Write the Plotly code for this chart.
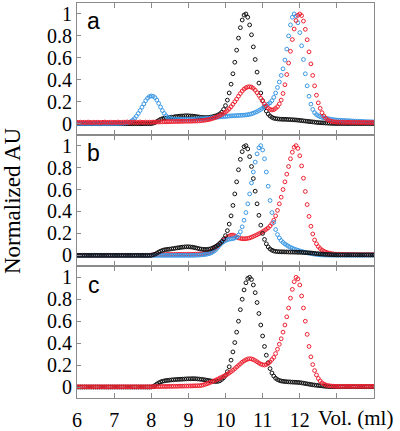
import plotly.graph_objects as go
from plotly.subplots import make_subplots

# Elution volume grid (ml), sampled every 0.05 ml from 6 to 14
VOL = [round(6 + 0.05 * i, 2) for i in range(161)]

# ---------------- panel a ----------------
BLACK_A = (
    [0.0] * 20 +
    [0.0] * 20 +
    [0.0, 0.005, 0.01, 0.02, 0.03, 0.04, 0.045, 0.05, 0.05, 0.055, 0.055, 0.06, 0.06, 0.065, 0.065, 0.068, 0.07, 0.07, 0.072, 0.072] +
    [0.072, 0.07, 0.07, 0.068, 0.065, 0.063, 0.06, 0.058, 0.057, 0.056, 0.056, 0.057, 0.06, 0.063, 0.068, 0.072, 0.08, 0.09, 0.105, 0.13] +
    [0.165, 0.215, 0.28, 0.36, 0.455, 0.56, 0.67, 0.78, 0.875, 0.945, 0.99, 1.0, 0.97, 0.9, 0.81, 0.7, 0.585, 0.47, 0.37, 0.28] +
    [0.21, 0.155, 0.115, 0.088, 0.07, 0.058, 0.05, 0.046, 0.044, 0.042, 0.041, 0.04, 0.04, 0.039, 0.038, 0.037, 0.036, 0.035, 0.034, 0.032] +
    [0.03, 0.028, 0.026, 0.024, 0.022, 0.02, 0.018, 0.016, 0.014, 0.012, 0.01, 0.009, 0.008, 0.007, 0.006, 0.005, 0.004, 0.003, 0.002, 0.002] +
    [0.001] * 20 +
    [0.001]
)
BLUE_A = (
    [0.002] * 20 +
    [0.002, 0.002, 0.003, 0.003, 0.004, 0.005, 0.006, 0.008, 0.012, 0.02, 0.032, 0.047, 0.068, 0.093, 0.12, 0.15, 0.18, 0.21, 0.232, 0.247] +
    [0.253, 0.25, 0.238, 0.215, 0.185, 0.152, 0.12, 0.093, 0.072, 0.058, 0.049, 0.044, 0.041, 0.04, 0.04, 0.04, 0.04, 0.04, 0.04, 0.04] +
    [0.04, 0.04, 0.041, 0.041, 0.042, 0.043, 0.044, 0.045, 0.046, 0.047, 0.049, 0.05, 0.052, 0.054, 0.056, 0.058, 0.06, 0.062, 0.064, 0.065] +
    [0.066, 0.068, 0.07, 0.071, 0.072, 0.073, 0.074, 0.075, 0.076, 0.077, 0.078, 0.08, 0.082, 0.086, 0.09, 0.096, 0.103, 0.11, 0.12, 0.13] +
    [0.142, 0.155, 0.165, 0.178, 0.19, 0.21, 0.24, 0.28, 0.33, 0.38, 0.44, 0.5, 0.58, 0.68, 0.8, 0.9, 0.97, 1.0, 0.98, 0.92] +
    [0.83, 0.71, 0.585, 0.455, 0.345, 0.25, 0.178, 0.13, 0.1, 0.083, 0.072, 0.064, 0.058, 0.053, 0.049, 0.046, 0.043, 0.04, 0.037, 0.035] +
    [0.033, 0.032, 0.031, 0.03, 0.029, 0.028, 0.027, 0.026, 0.025, 0.024, 0.023, 0.022, 0.021, 0.021, 0.02, 0.019, 0.018, 0.018, 0.017, 0.017] +
    [0.016]
)
RED_A = (
    [0.012, 0.01, 0.014, 0.011, 0.013, 0.01, 0.015, 0.012, 0.01, 0.013, 0.011, 0.014, 0.012, 0.01, 0.013, 0.015, 0.011, 0.012, 0.014, 0.01] +
    [0.013, 0.011, 0.015, 0.012, 0.01, 0.014, 0.012, 0.016, 0.011, 0.013, 0.015, 0.012, 0.014, 0.011, 0.016, 0.013, 0.012, 0.015, 0.013, 0.014] +
    [0.013, 0.015, 0.014, 0.016, 0.015, 0.017, 0.016, 0.018, 0.017, 0.019, 0.018, 0.02, 0.019, 0.02, 0.021, 0.02, 0.022, 0.021, 0.022, 0.023] +
    [0.022, 0.023, 0.023, 0.024, 0.024, 0.025, 0.026, 0.028, 0.03, 0.032, 0.035, 0.038, 0.042, 0.047, 0.053, 0.06, 0.067, 0.075, 0.084, 0.094] +
    [0.106, 0.12, 0.136, 0.155, 0.177, 0.2, 0.224, 0.25, 0.275, 0.297, 0.315, 0.328, 0.335, 0.337, 0.333, 0.322, 0.305, 0.283, 0.258, 0.232] +
    [0.205, 0.18, 0.16, 0.14, 0.13, 0.125, 0.128, 0.14, 0.155, 0.18, 0.215, 0.275, 0.355, 0.448, 0.553, 0.66, 0.767, 0.863, 0.94, 0.988] +
    [1.0, 0.985, 0.935, 0.86, 0.765, 0.655, 0.545, 0.44, 0.345, 0.26, 0.19, 0.14, 0.1, 0.07, 0.05, 0.036, 0.027, 0.022, 0.018, 0.016] +
    [0.015, 0.014, 0.015, 0.013, 0.014, 0.012, 0.013, 0.012, 0.011, 0.013, 0.012, 0.011, 0.012, 0.01, 0.011, 0.012, 0.01, 0.011, 0.01, 0.011] +
    [0.01]
)

# ---------------- panel b ----------------
BLACK_B = (
    [0.0] * 20 +
    [0.0] * 20 +
    [0.0, 0.005, 0.01, 0.02, 0.03, 0.038, 0.045, 0.05, 0.053, 0.055, 0.057, 0.06, 0.062, 0.065, 0.068, 0.07, 0.073, 0.075, 0.077, 0.078] +
    [0.078, 0.077, 0.075, 0.072, 0.068, 0.064, 0.06, 0.057, 0.055, 0.054, 0.054, 0.056, 0.06, 0.066, 0.074, 0.084, 0.096, 0.11, 0.127, 0.15] +
    [0.18, 0.225, 0.285, 0.36, 0.455, 0.56, 0.67, 0.78, 0.875, 0.945, 0.99, 1.0, 0.97, 0.9, 0.81, 0.7, 0.585, 0.47, 0.365, 0.275] +
    [0.2, 0.145, 0.105, 0.077, 0.058, 0.047, 0.04, 0.036, 0.034, 0.033, 0.032, 0.032, 0.031, 0.031, 0.03, 0.03, 0.03, 0.029, 0.029, 0.028] +
    [0.028, 0.027, 0.026, 0.025, 0.024, 0.023, 0.022, 0.02, 0.018, 0.016, 0.015, 0.013, 0.012, 0.01, 0.009, 0.008, 0.007, 0.006, 0.005, 0.005] +
    [0.004] * 20 +
    [0.004]
)
BLUE_B = (
    [0.0] * 20 +
    [0.0] * 20 +
    [0.0] * 20 +
    [0.0, 0.0, 0.0, 0.001, 0.001, 0.002, 0.003, 0.004, 0.006, 0.008, 0.011, 0.015, 0.021, 0.03, 0.04, 0.055, 0.075, 0.095, 0.112, 0.125] +
    [0.135, 0.142, 0.147, 0.15, 0.153, 0.158, 0.167, 0.185, 0.215, 0.26, 0.32, 0.39, 0.47, 0.56, 0.66, 0.76, 0.85, 0.925, 0.98, 1.0] +
    [0.96, 0.88, 0.76, 0.63, 0.5, 0.39, 0.3, 0.235, 0.19, 0.158, 0.135, 0.118, 0.104, 0.092, 0.082, 0.073, 0.065, 0.058, 0.052, 0.046] +
    [0.041, 0.036, 0.031, 0.027, 0.023, 0.02, 0.017, 0.014, 0.011, 0.009, 0.007, 0.005, 0.004, 0.003, 0.003, 0.002, 0.002, 0.002, 0.002, 0.002] +
    [0.002] * 20 +
    [0.002]
)
RED_B = (
    [0.0] * 20 +
    [0.0] * 20 +
    [0.003, 0.004, 0.005, 0.005, 0.006, 0.006, 0.007, 0.007, 0.007, 0.008, 0.008, 0.008, 0.008, 0.008, 0.009, 0.009, 0.009, 0.009, 0.009, 0.01] +
    [0.01, 0.01, 0.01, 0.01, 0.011, 0.012, 0.013, 0.014, 0.016, 0.019, 0.023, 0.028, 0.035, 0.045, 0.058, 0.073, 0.09, 0.107, 0.123, 0.138] +
    [0.152, 0.165, 0.176, 0.184, 0.185, 0.178, 0.168, 0.16, 0.155, 0.152, 0.151, 0.152, 0.155, 0.159, 0.165, 0.172, 0.18, 0.188, 0.197, 0.206] +
    [0.216, 0.227, 0.238, 0.25, 0.268, 0.29, 0.32, 0.36, 0.41, 0.47, 0.53, 0.6, 0.67, 0.74, 0.81, 0.88, 0.94, 0.985, 1.0, 0.975] +
    [0.908, 0.815, 0.703, 0.582, 0.463, 0.355, 0.265, 0.195, 0.14, 0.105, 0.08, 0.062, 0.048, 0.037, 0.029, 0.023, 0.019, 0.016, 0.013, 0.011] +
    [0.01, 0.01, 0.009, 0.009, 0.009, 0.008, 0.008, 0.008, 0.008, 0.007, 0.007, 0.007, 0.007, 0.007, 0.006, 0.006, 0.006, 0.006, 0.006, 0.006] +
    [0.006]
)

# ---------------- panel c ----------------
BLACK_C = (
    [0.0] * 20 +
    [0.0] * 20 +
    [0.0, 0.005, 0.015, 0.027, 0.038, 0.046, 0.052, 0.056, 0.059, 0.061, 0.063, 0.065, 0.066, 0.068, 0.069, 0.07, 0.071, 0.072, 0.073, 0.074] +
    [0.075, 0.075, 0.076, 0.076, 0.075, 0.074, 0.072, 0.07, 0.068, 0.065, 0.062, 0.059, 0.056, 0.053, 0.051, 0.05, 0.052, 0.058, 0.07, 0.085] +
    [0.105, 0.14, 0.185, 0.245, 0.32, 0.405, 0.5, 0.6, 0.705, 0.8, 0.885, 0.95, 0.99, 1.0, 0.98, 0.93, 0.86, 0.77, 0.67, 0.565] +
    [0.465, 0.37, 0.29, 0.222, 0.168, 0.128, 0.1, 0.08, 0.068, 0.06, 0.055, 0.052, 0.05, 0.048, 0.047, 0.046, 0.045, 0.044, 0.043, 0.042] +
    [0.04, 0.038, 0.035, 0.032, 0.029, 0.026, 0.023, 0.02, 0.018, 0.016, 0.014, 0.012, 0.01, 0.008, 0.006, 0.005, 0.004, 0.003, 0.003, 0.003] +
    [0.003] * 20 +
    [0.003]
)
RED_C = (
    [0.002] * 20 +
    [0.002] * 20 +
    [0.003, 0.003, 0.003, 0.004, 0.004, 0.004, 0.005, 0.005, 0.005, 0.006, 0.006, 0.006, 0.007, 0.007, 0.007, 0.008, 0.008, 0.008, 0.009, 0.009] +
    [0.009, 0.01, 0.01, 0.011, 0.011, 0.012, 0.012, 0.015, 0.019, 0.024, 0.03, 0.036, 0.043, 0.05, 0.057, 0.065, 0.073, 0.082, 0.09, 0.098] +
    [0.107, 0.117, 0.128, 0.14, 0.153, 0.167, 0.182, 0.197, 0.212, 0.226, 0.238, 0.248, 0.255, 0.258, 0.256, 0.25, 0.241, 0.23, 0.219, 0.209] +
    [0.203, 0.2, 0.205, 0.215, 0.23, 0.25, 0.27, 0.305, 0.345, 0.39, 0.44, 0.5, 0.565, 0.64, 0.72, 0.81, 0.89, 0.96, 1.0, 0.985] +
    [0.93, 0.83, 0.72, 0.6, 0.48, 0.37, 0.275, 0.205, 0.15, 0.11, 0.078, 0.055, 0.038, 0.027, 0.019, 0.014, 0.011, 0.009, 0.008, 0.007] +
    [0.006] * 20 +
    [0.006]
)

X_TICKS = [6, 7, 8, 9, 10, 11, 12, 13, 14]
X_TICK_TEXT = ["6", "7", "8", "9", "10", "11", "12", "", ""]
Y_TICKS = [0, 0.2, 0.4, 0.6, 0.8, 1.0]
Y_TICK_TEXT = ["0", "0.2", "0.4", "0.6", "0.8", "1"]
PANEL_LABELS = ["a", "b", "c"]

COLORS = {"black": "#111111", "blue": "#3a98e6", "red": "#ee2030"}

PANELS = [
    [("black", BLACK_A), ("blue", BLUE_A), ("red", RED_A)],
    [("red", RED_B), ("blue", BLUE_B), ("black", BLACK_B)],
    [("black", BLACK_C), ("red", RED_C)],
]

for panel in PANELS:
    for _, ys in panel:
        assert len(ys) == len(VOL), len(ys)

fig = make_subplots(rows=3, cols=1, shared_xaxes=True, vertical_spacing=0)

for r, panel in enumerate(PANELS, start=1):
    for cname, ys in panel:
        fig.add_trace(
            go.Scatter(
                x=VOL, y=ys, mode="markers",
                marker=dict(symbol="circle-open", size=3.8,
                            color=COLORS[cname], line=dict(width=1, color=COLORS[cname])),
                showlegend=False, hoverinfo="skip",
            ),
            row=r, col=1,
        )

SERIF = "Liberation Serif, Times New Roman, serif"
SANS = "Liberation Sans, Arial, sans-serif"
AXCOL = "#8a8a8a"

for r in range(1, 4):
    fig.update_xaxes(
        range=[6, 14], tickvals=X_TICKS, ticktext=X_TICK_TEXT,
        ticks="inside", ticklen=5, tickcolor=AXCOL, tickwidth=1,
        showline=True, linecolor=AXCOL, linewidth=1, mirror="ticks",
        showgrid=False, zeroline=False, showticklabels=(r == 3),
        ticklabelstandoff=4, automargin=False,
        tickfont=dict(family=SERIF, size=20, color="black"),
        row=r, col=1,
    )
    fig.update_yaxes(
        range=[-0.1, 1.1], tickvals=Y_TICKS, ticktext=Y_TICK_TEXT,
        ticks="inside", ticklen=4, tickcolor=AXCOL, tickwidth=1,
        showline=True, linecolor=AXCOL, linewidth=1, mirror=True,
        showgrid=False, zeroline=False, automargin=False,
        tickfont=dict(family=SERIF, size=20, color="black"),
        row=r, col=1,
    )
    suffix = "" if r == 1 else str(r)
    fig.add_annotation(
        text=PANEL_LABELS[r - 1], xref=f"x{suffix} domain", yref=f"y{suffix} domain",
        x=0.057, y=0.86, xanchor="center", yanchor="middle", showarrow=False,
        font=dict(family=SANS, size=23, color="black"),
    )

fig.add_annotation(
    text="Normalized AU", xref="paper", yref="paper", x=-0.215, y=0.499,
    xanchor="center", yanchor="middle", textangle=-90, showarrow=False,
    font=dict(family=SERIF, size=23, color="black"),
)
fig.add_annotation(
    text="Vol. (ml)", xref="paper", yref="paper", x=0.806, y=-0.05,
    xanchor="left", yanchor="middle", showarrow=False,
    font=dict(family=SERIF, size=21, color="black"),
)

fig.update_layout(
    width=400, height=431,
    margin=dict(l=77, r=26, t=3, b=33, autoexpand=False),
    plot_bgcolor="white", paper_bgcolor="white",
    font=dict(family=SERIF),
)

fig.write_html("out.html", config={"displayModeBar": False},
               post_script="document.body.style.margin='0px';")
